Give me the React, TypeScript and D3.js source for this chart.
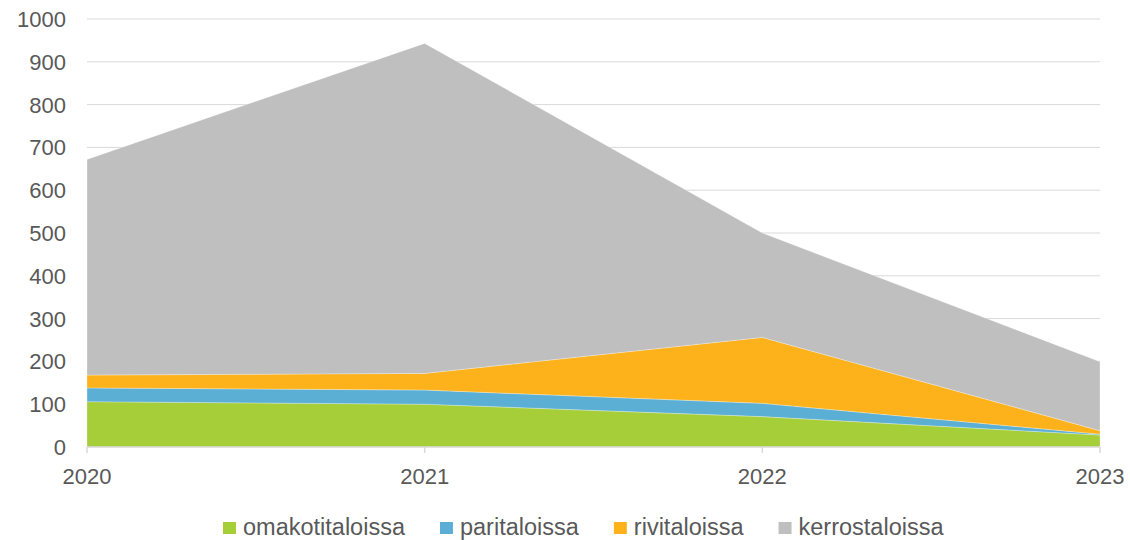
import { useEffect, useRef } from "react";
import * as d3 from "d3";

const years = [2020, 2021, 2022, 2023];
const seriesNames = ["omakotitaloissa", "paritaloissa", "rivitaloissa", "kerrostaloissa"];
const omakotitaloissa = [106, 100, 71, 28];
const paritaloissa = [32, 33, 31, 2];
const rivitaloissa = [30, 39, 154, 8];
const kerrostaloissa = [504, 771, 244, 161];
const yTicks = [0, 100, 200, 300, 400, 500, 600, 700, 800, 900, 1000];
const colors = ["#a6ce39", "#5bafd5", "#fdb21c", "#bfbfbf"];

const App = () => {
    const ref = useRef<SVGSVGElement>(null);

    useEffect(() => {
        const svg = d3.select(ref.current);
        svg.selectAll("*").remove();

        const font = "'Liberation Sans', Arial, sans-serif";
        const textColor = "#595959";
        const gridColor = "#d9d9d9";

        const rows = years.map((year, i) => ({
            year,
            omakotitaloissa: omakotitaloissa[i],
            paritaloissa: paritaloissa[i],
            rivitaloissa: rivitaloissa[i],
            kerrostaloissa: kerrostaloissa[i]
        }));

        const x = d3.scaleLinear()
            .domain([2020, 2023])
            .range([87, 1100]);
        const y = d3.scaleLinear()
            .domain([0, 1000])
            .range([447, 19]);

        // grid
        svg.append("g")
            .selectAll("line")
            .data(yTicks.slice(1))
            .enter()
            .append("line")
                .attr("x1", x(2020))
                .attr("x2", x(2023))
                .attr("y1", (d) => y(d))
                .attr("y2", (d) => y(d))
                .attr("stroke", gridColor)
                .attr("stroke-width", 1);

        const stack = d3.stack<any>().keys(seriesNames);
        const layers = stack(rows);
        const area = d3.area<any>()
            .x((d) => x(d.data.year))
            .y0((d) => y(d[0]))
            .y1((d) => y(d[1]));

        svg.append("g")
            .selectAll("path")
            .data(layers)
            .enter()
            .append("path")
                .attr("d", area)
                .attr("fill", (_d, i) => colors[i])
                .attr("stroke", "#ffffff")
                .attr("stroke-opacity", 0.35)
                .attr("stroke-width", 0.8);

        // x axis line and ticks
        svg.append("line")
            .attr("x1", x(2020))
            .attr("x2", x(2023))
            .attr("y1", y(0))
            .attr("y2", y(0))
            .attr("stroke", gridColor)
            .attr("stroke-width", 1.5);
        svg.append("g")
            .selectAll("line")
            .data(years)
            .enter()
            .append("line")
                .attr("x1", (d) => x(d))
                .attr("x2", (d) => x(d))
                .attr("y1", y(0))
                .attr("y2", y(0) + 6)
                .attr("stroke", gridColor)
                .attr("stroke-width", 1.5);

        svg.append("g")
            .selectAll("text")
            .data(years)
            .enter()
            .append("text")
                .attr("x", (d) => x(d))
                .attr("y", 484)
                .attr("text-anchor", "middle")
                .style("font-family", font)
                .style("font-size", "22px")
                .attr("fill", textColor)
                .text((d) => d);

        svg.append("g")
            .selectAll("text")
            .data(yTicks)
            .enter()
            .append("text")
                .attr("x", 66)
                .attr("y", (d) => y(d))
                .attr("dy", "0.36em")
                .attr("text-anchor", "end")
                .style("font-family", font)
                .style("font-size", "22px")
                .attr("fill", textColor)
                .text((d) => d);

        // legend
        const legend = svg.append("g");
        let lx = 223;
        seriesNames.forEach((name, i) => {
            legend.append("rect")
                .attr("x", lx)
                .attr("y", 522)
                .attr("width", 13)
                .attr("height", 12)
                .attr("fill", colors[i]);
            const t = legend.append("text")
                .attr("x", lx + 20)
                .attr("y", 535)
                .style("font-family", font)
                .style("font-size", "23.5px")
                .attr("fill", textColor)
                .text(name);
            const w = (t.node() as SVGTextElement).getComputedTextLength();
            lx += 20 + w + 35;
        });
    }, []);

    return (
        <svg
            ref={ref}
            width={1130}
            height={540}
            style={{ position: "absolute", left: 0, top: 0 }}
        />
    );
};

export default App;
